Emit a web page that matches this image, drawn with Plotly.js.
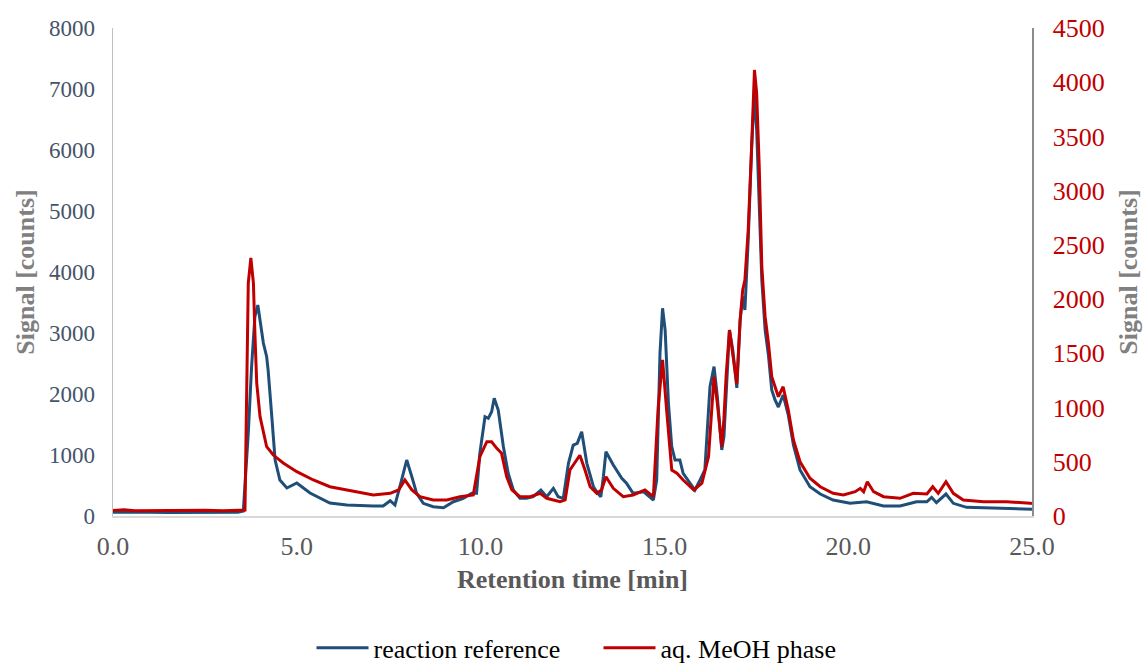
<!DOCTYPE html>
<html>
<head>
<meta charset="utf-8">
<script src="https://cdn.plot.ly/plotly-3.0.1.min.js"></script>
<style>html,body{margin:0;padding:0;background:#fff;}#chart{width:1145px;height:664px;}</style>
</head>
<body>
<div id="chart"></div>
<script>
// reaction reference (left axis) — retention time [min] and signal [counts]
const refTime = [0.0,0.5,1.0,1.5,2.0,2.5,3.0,3.4,3.545,3.68,3.77,3.86,3.94,4.09,4.18,4.22,4.32,4.41,4.54,4.73,5.0,5.36,5.90,6.36,7.08,7.35,7.54,7.67,7.85,7.99,8.13,8.26,8.44,8.71,8.99,9.26,9.53,9.76,9.89,9.98,10.12,10.21,10.30,10.37,10.48,10.62,10.75,10.89,11.07,11.25,11.43,11.64,11.80,11.98,12.11,12.25,12.39,12.52,12.63,12.75,12.89,13.07,13.19,13.27,13.34,13.41,13.61,13.84,13.97,14.15,14.43,14.65,14.70,14.79,14.88,14.95,15.02,15.11,15.20,15.29,15.42,15.51,15.70,15.83,15.97,16.10,16.24,16.35,16.44,16.56,16.62,16.68,16.77,16.86,16.97,17.06,17.13,17.19,17.28,17.37,17.45,17.51,17.58,17.65,17.74,17.83,17.92,18.01,18.10,18.23,18.37,18.51,18.69,18.87,18.96,19.24,19.59,20.05,20.50,20.96,21.41,21.86,22.14,22.27,22.40,22.66,22.86,23.22,24.13,24.95,25.0];
const refSignal = [60,66,62,58,60,64,60,62,80,1360,2448,3268,3459,2836,2611,2390,1628,918,590,459,541,377,213,180,164,164,251,180,590,918,644,372,208,153,136,234,290,372,372,1028,1628,1601,1710,1929,1738,1136,700,426,290,290,316,426,316,454,316,290,864,1164,1192,1382,864,480,372,316,644,1054,836,618,536,372,398,290,262,590,2667,3405,3049,1847,1136,918,918,700,536,426,590,754,2120,2448,1956,1082,1300,2000,3049,2721,2100,3213,3600,3377,4525,6000,6951,6328,5180,3869,3049,2639,2066,1902,1787,1984,1656,1164,754,560,480,360,262,208,234,164,164,234,234,306,218,360,208,142,126,110,110];

// aq. MeOH phase (right axis)
const meohTime = [0.0,0.3,0.6,1.0,1.5,2.0,2.5,3.0,3.5,3.59,3.64,3.68,3.75,3.82,3.86,3.91,4.0,4.09,4.18,4.36,4.63,5.0,5.45,5.90,6.36,6.63,7.08,7.54,7.77,7.94,8.13,8.35,8.71,9.08,9.44,9.80,9.98,10.17,10.30,10.44,10.57,10.71,10.85,11.07,11.35,11.62,11.80,12.16,12.30,12.43,12.57,12.70,12.84,12.98,13.16,13.29,13.41,13.61,13.88,14.15,14.47,14.70,14.83,14.95,15.06,15.20,15.34,15.51,15.80,16.02,16.20,16.35,16.44,16.56,16.62,16.68,16.77,16.86,16.97,17.06,17.13,17.19,17.28,17.37,17.45,17.51,17.58,17.65,17.74,17.83,17.92,18.01,18.10,18.23,18.37,18.51,18.69,18.96,19.24,19.59,19.87,20.19,20.33,20.42,20.52,20.69,20.96,21.41,21.77,22.14,22.30,22.45,22.66,22.86,23.13,23.68,24.31,24.95,25.0];
const meohSignal = [50,58,48,50,46,50,52,48,50,55,1226,2148,2379,2148,1688,1226,916,765,639,562,489,409,332,270,240,224,194,209,240,332,240,178,148,148,178,194,547,685,685,624,578,362,240,178,178,209,163,132,148,424,501,560,424,270,209,240,362,255,178,194,240,178,1000,1439,978,424,394,332,240,302,547,1285,1039,639,900,1300,1715,1500,1220,1807,2084,2176,2637,3375,4113,3898,3221,2299,1838,1593,1285,1192,1100,1192,978,701,500,348,270,209,194,224,255,224,316,224,178,163,209,203,270,209,316,209,148,132,132,117,115];

const xTickVals = [0,5,10,15,20,25];
const leftTicks = [0,1000,2000,3000,4000,5000,6000,7000,8000];
const rightTicks = [0,500,1000,1500,2000,2500,3000,3500,4000,4500];

const serif = 'Liberation Serif, Times New Roman, serif';

const traces = [
  {x: refTime, y: refSignal, name: 'reaction reference', type: 'scatter', mode: 'lines',
   line: {color: '#1f4e79', width: 3}, yaxis: 'y'},
  {x: meohTime, y: meohSignal, name: 'aq. MeOH phase', type: 'scatter', mode: 'lines',
   line: {color: '#c00000', width: 3}, yaxis: 'y2'}
];

const layout = {
  width: 1145, height: 664,
  margin: {l: 113, r: 113, t: 28, b: 148, autoexpand: false},
  paper_bgcolor: '#fff', plot_bgcolor: '#fff',
  font: {family: serif, size: 26, color: '#000'},
  showlegend: true,
  legend: {orientation: 'h', x: 0.216, xanchor: 'left', y: -0.270, yanchor: 'middle',
           font: {family: serif, size: 26, color: '#000'}, itemwidth: 52,
           entrywidth: 220, entrywidthmode: 'pixels', tracegroupgap: 0},
  xaxis: {
    range: [0, 25], tickvals: xTickVals, tickformat: '.1f', showgrid: false, zeroline: false,
    showline: true, linecolor: '#d9d9d9', linewidth: 1.5, ticks: '',
    ticklabelstandoff: 6,
    tickfont: {family: serif, size: 26, color: '#595959'},
    title: {text: '<b>Retention time [min]</b>', font: {family: serif, size: 26, color: '#595959'}, standoff: 10}
  },
  yaxis: {
    range: [0, 8000], tickvals: leftTicks, showgrid: false, zeroline: false,
    showline: true, linecolor: '#bfbfbf', linewidth: 1.5, ticks: '',
    ticklabelstandoff: 12,
    tickfont: {family: serif, size: 23, color: '#44546a'},
    title: {text: '<b>Signal [counts]</b>', font: {family: serif, size: 26, color: '#808080'}, standoff: 7}
  },
  yaxis2: {
    range: [0, 4500], tickvals: rightTicks, overlaying: 'y', side: 'right', showgrid: false, zeroline: false,
    showline: true, linecolor: '#8c8c8c', linewidth: 1.5, ticks: '',
    ticklabelstandoff: 14,
    tickfont: {family: serif, size: 26, color: '#c00000'},
    title: {text: '<b>Signal [counts]</b>', font: {family: serif, size: 26, color: '#808080'}, standoff: 15}
  }
};

Plotly.newPlot('chart', traces, layout, {displayModeBar: false, staticPlot: true});
</script>
</body>
</html>
